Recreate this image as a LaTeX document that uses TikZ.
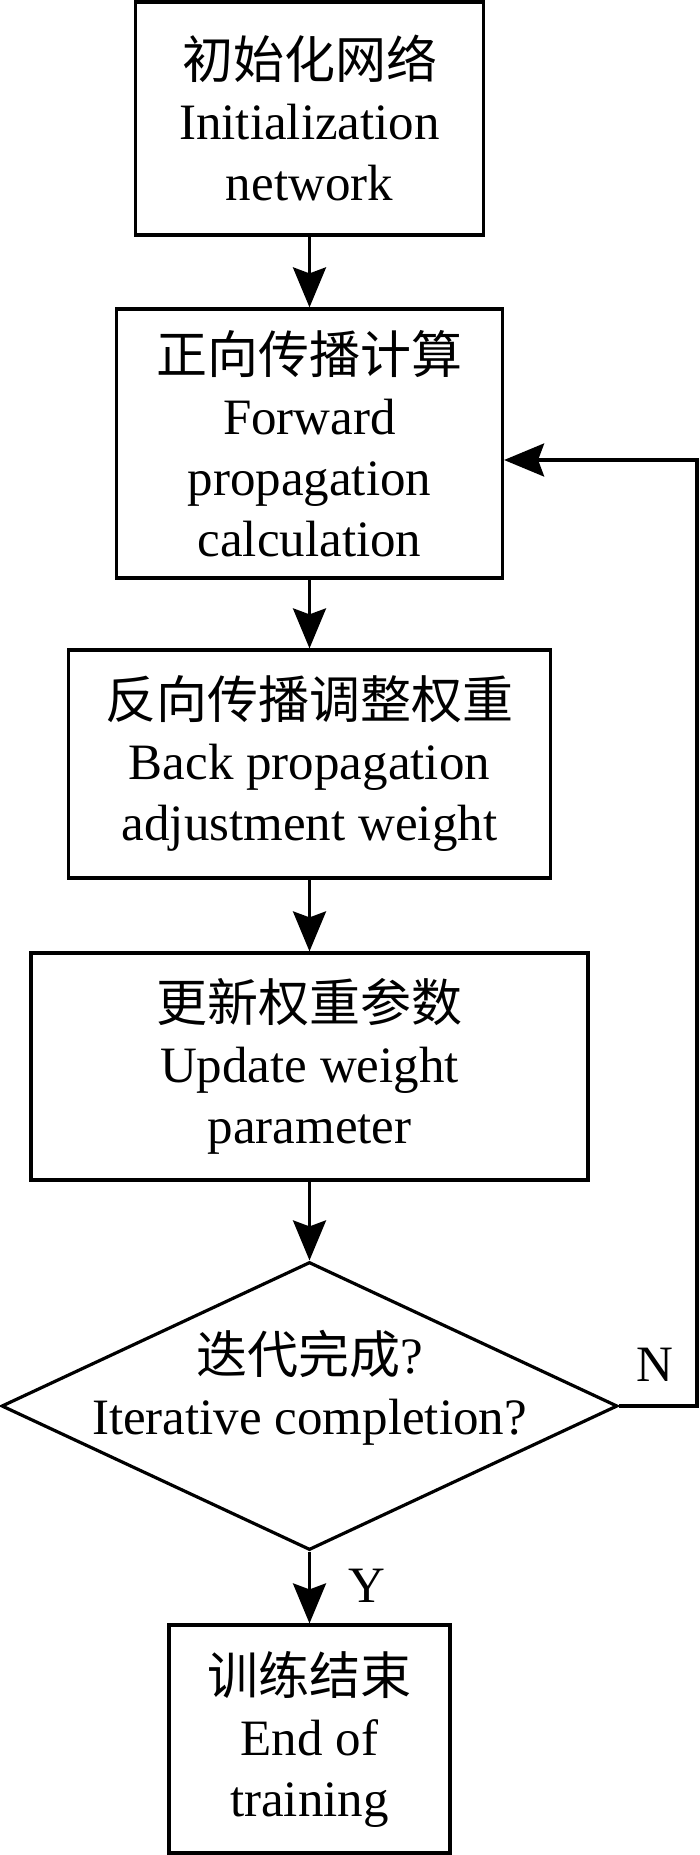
\documentclass[tikz,border=0pt]{standalone}
\usepackage{fontspec}
\setmainfont{Liberation Serif}
\newfontfamily\cjk{Noto Sans CJK SC}
\usetikzlibrary{arrows.meta,shapes.geometric}
\begin{document}
\begin{tikzpicture}[x=0.5pt,y=-0.5pt,
  every node/.style={font=\fontsize{25.5pt}{30.5pt}\selectfont, inner sep=0pt},
  proc/.style={draw, line width=1.6pt, rectangle, align=center},
  decis/.style={draw, line width=1.6pt, diamond},
  lbl/.style={align=center},
  arr/.style={line width=1.6pt, -{Stealth[length=20pt,width=16.5pt,inset=3pt]}},
  ln/.style={line width=1.6pt}]
\useasboundingbox (0,0) rectangle (700,1855);
\node[proc, minimum width=174pt, minimum height=116.5pt] (b1) at (309.5,118.5)
  {{\cjk 初始化网络}\\Initialization\\network};
\node[proc, minimum width=193pt, minimum height=134.5pt] (b2) at (309.5,443.5)
  {{\cjk 正向传播计算}\\Forward\\propagation\\calculation};
\node[proc, minimum width=241pt, minimum height=114pt] (b3) at (309.5,764)
  {{\cjk 反向传播调整权重}\\Back propagation\\adjustment weight};
\node[proc, minimum width=278.5pt, minimum height=113.5pt] (b4) at (309.5,1066.5)
  {{\cjk 更新权重参数}\\Update weight\\parameter};
\node[decis, minimum width=308pt, minimum height=144pt] (dec) at (309.5,1406) {};
\node[lbl] (dectext) at (309.5,1388) {{\cjk 迭代完成}?\\Iterative completion?};
\node[proc, minimum width=140.5pt, minimum height=114pt] (b5) at (309.5,1739)
  {{\cjk 训练结束}\\End of\\training};
\node (nlab) at (655,1365) {N};
\node (ylab) at (367,1586) {Y};
\coordinate (fb1) at (697,1406);
\coordinate (fb2) at (697,460);
\draw[arr] (b1.south) -- (b2.north);
\draw[arr] (b2.south) -- (b3.north);
\draw[arr] (b3.south) -- (b4.north);
\draw[arr] (b4.south) -- (dec.north);
\draw[arr] (dec.south) -- (b5.north);
\draw[arr] (dec.east) -- (fb1) -- (fb2) -- (b2.east |- fb2);
\end{tikzpicture}
\end{document}
